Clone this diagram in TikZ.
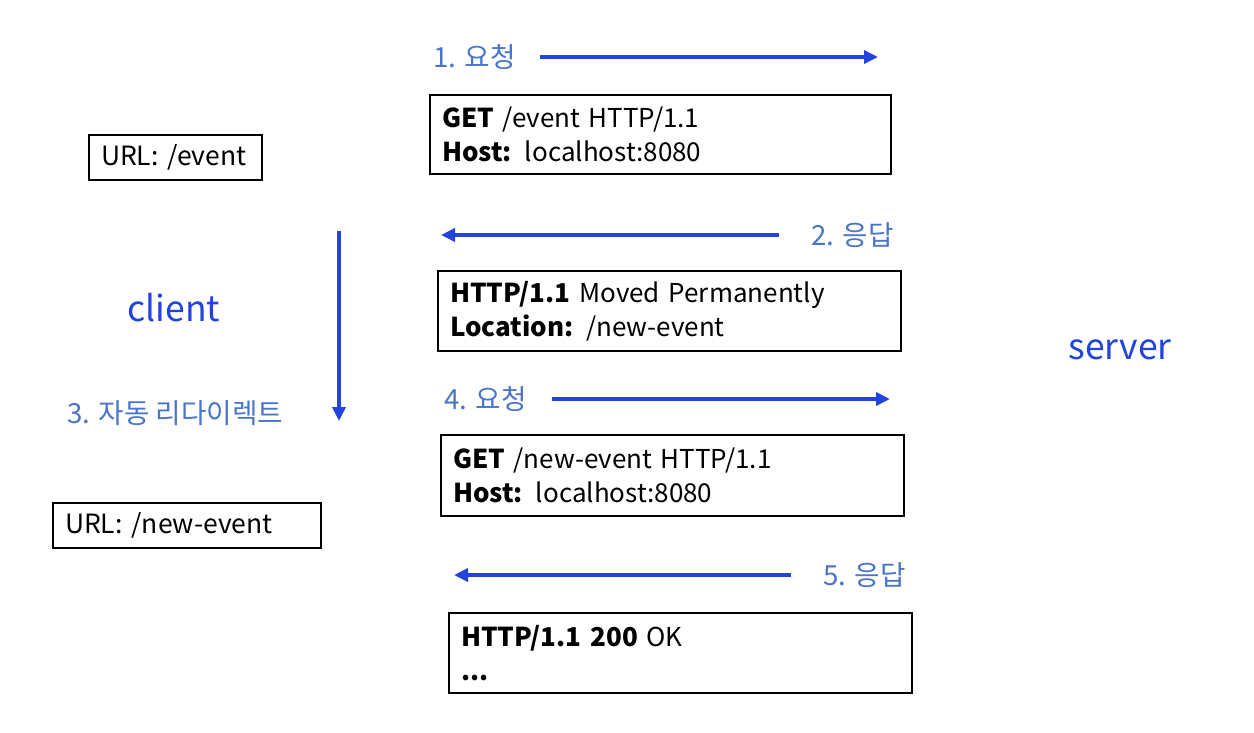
\documentclass[tikz,border=0pt]{standalone}
\usepackage{fontspec}
\setmainfont{Noto Sans CJK KR}
\usetikzlibrary{arrows.meta}
\definecolor{arrblue}{HTML}{2244DD}
\definecolor{lblblue}{HTML}{4A75C8}
\tikzset{
  msgbox/.style={draw=black, line width=2pt, inner sep=0pt, align=left, font=\fontsize{26}{34}\selectfont},
  urlbox/.style={draw=black, line width=2pt, inner sep=0pt, align=left, font=\fontsize{26.5}{30}\selectfont},
  flow/.style={draw=arrblue, line width=4pt, -{Triangle[length=14pt,width=13pt]}},
  steplbl/.style={text=lblblue, inner sep=0pt, font=\fontsize{27.7}{30}\selectfont},
  side/.style={text=arrblue, inner sep=0pt, font=\fontsize{35.5}{40}\selectfont}
}
\begin{document}
\begin{tikzpicture}[x=1pt,y=-1pt]
\useasboundingbox[fill=white] (0,0) rectangle (1254,732);
% boxes
\node[msgbox, minimum width=461pt, minimum height=79pt, text width=437pt] (b1) at (660.5,134.5) {\textbf{GET} /event HTTP/1.1\\\textbf{Host:} localhost:8080};
\node[msgbox, minimum width=463pt, minimum height=80pt, text width=439pt] (b2) at (669.5,311) {\textbf{HTTP/1.1} Moved Permanently\\\textbf{Location:} /new-event};
\node[msgbox, minimum width=463pt, minimum height=81pt, text width=439pt] (b3) at (672.5,475.5) {\textbf{GET} /new-event HTTP/1.1\\\textbf{Host:} localhost:8080};
\node[msgbox, minimum width=463pt, minimum height=80pt, text width=439pt] (b4) at (680.5,653) {\textbf{HTTP/1.1 200} OK\\\textbf{...}};
\node[urlbox, minimum width=173pt, minimum height=45pt, text width=149pt] (u1) at (175.5,157.5) {URL: /event};
\node[urlbox, minimum width=268pt, minimum height=45pt, text width=244pt] (u2) at (187,525.5) {URL: /new-event};
% side labels
\node[side] (client) at (174,308) {client};
\node[side] (server) at (1120,350) {server};
% step labels
\node[steplbl, anchor=west] (l1) at (433,57) {1. 요청};
\node[steplbl, anchor=west] (l2) at (811,235) {2. 응답};
\node[steplbl, anchor=west] (l3) at (67,413) {3. 자동 리다이렉트};
\node[steplbl, anchor=west] (l4) at (444,399) {4. 요청};
\node[steplbl, anchor=west] (l5) at (823,575) {5. 응답};
% arrow endpoints
\coordinate (a1s) at (540,57);  \coordinate (a1e) at (878,57);
\coordinate (a2s) at (779,235); \coordinate (a2e) at (441,235);
\coordinate (a3s) at (339,231); \coordinate (a3e) at (339,421);
\coordinate (a4s) at (552,399); \coordinate (a4e) at (890,399);
\coordinate (a5s) at (791,575); \coordinate (a5e) at (454,575);
\draw[flow] (a1s) -- (a1e);
\draw[flow] (a2s) -- (a2e);
\draw[flow] (a3s) -- (a3e);
\draw[flow] (a4s) -- (a4e);
\draw[flow] (a5s) -- (a5e);
\end{tikzpicture}
\end{document}
